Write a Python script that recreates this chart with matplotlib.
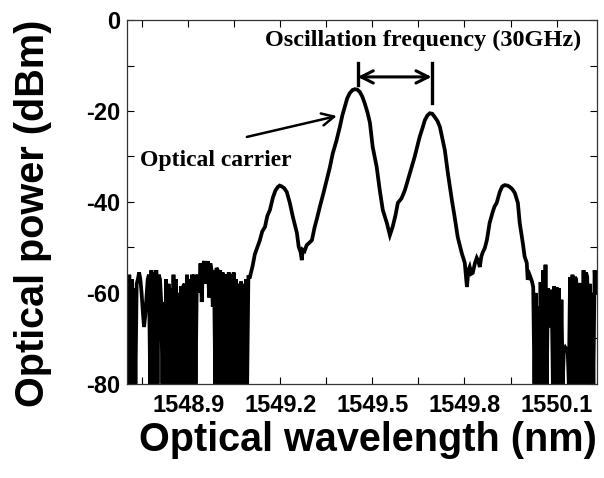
import numpy as np
import matplotlib.pyplot as plt
from matplotlib.ticker import MultipleLocator, FuncFormatter

# Optical spectrum (wavelength in nm, power in dBm)
# noisy floor on the short-wavelength side
wl_left = [1548.700, 1548.704, 1548.708, 1548.712, 1548.716, 1548.720, 1548.724, 1548.728,
           1548.732, 1548.736, 1548.740, 1548.744, 1548.748, 1548.752, 1548.756, 1548.760,
           1548.764, 1548.768, 1548.772, 1548.776, 1548.780, 1548.784, 1548.788, 1548.792,
           1548.796, 1548.800, 1548.804, 1548.808, 1548.812, 1548.816, 1548.820, 1548.824,
           1548.828, 1548.832, 1548.836, 1548.840, 1548.844, 1548.848, 1548.852, 1548.856,
           1548.860, 1548.864, 1548.868, 1548.872, 1548.876, 1548.880, 1548.884, 1548.888,
           1548.892, 1548.896, 1548.900, 1548.904, 1548.908, 1548.912, 1548.916, 1548.920,
           1548.924, 1548.928, 1548.932, 1548.936, 1548.940, 1548.944, 1548.948, 1548.952,
           1548.956, 1548.960, 1548.964, 1548.968, 1548.972, 1548.976, 1548.980, 1548.984,
           1548.988, 1548.992, 1548.996, 1549.000, 1549.004, 1549.008, 1549.012, 1549.016,
           1549.020, 1549.024, 1549.028, 1549.032, 1549.036, 1549.040, 1549.044, 1549.048,
           1549.052, 1549.056, 1549.060, 1549.064, 1549.068, 1549.072, 1549.076, 1549.080,
           1549.084, 1549.088, 1549.092, 1549.096]
pw_left = [-56.5, -80.0, -56.0, -80.0, -57.0, -80.0, -59.0, -80.0,
           -58.0, -57.0, -55.5, -57.0, -60.0, -64.0, -67.5, -65.0,
           -61.0, -57.0, -56.0, -80.0, -55.0, -80.0, -55.5, -80.0,
           -55.0, -80.0, -56.0, -57.0, -62.0, -80.0, -62.0, -80.0,
           -57.0, -80.0, -58.0, -80.0, -59.0, -80.0, -56.0, -80.0,
           -57.0, -80.0, -60.0, -80.0, -58.5, -80.0, -58.5, -58.0,
           -80.0, -56.0, -80.0, -57.0, -80.0, -56.0, -80.0, -56.0,
           -80.0, -57.0, -56.0, -60.0, -53.5, -62.0, -54.0, -53.0,
           -58.0, -55.0, -53.0, -61.0, -53.5, -55.0, -63.0, -55.0,
           -80.0, -54.5, -55.0, -80.0, -55.0, -80.0, -55.5, -80.0,
           -56.5, -56.0, -80.0, -55.5, -80.0, -56.0, -80.0, -55.5,
           -80.0, -57.0, -80.0, -58.0, -80.0, -57.5, -80.0, -58.0,
           -80.0, -57.0, -80.0, -56.5]

# the modulated spectrum (sidebands and carrier)
wl_mid = [1549.101, 1549.110, 1549.117, 1549.125, 1549.133, 1549.141, 1549.150,
          1549.158, 1549.166, 1549.176, 1549.184, 1549.192, 1549.198, 1549.205,
          1549.213, 1549.221, 1549.231, 1549.241, 1549.254, 1549.260, 1549.266,
          1549.270, 1549.273, 1549.279, 1549.286, 1549.294, 1549.303, 1549.312,
          1549.320, 1549.329, 1549.340, 1549.351, 1549.361, 1549.371, 1549.383,
          1549.394, 1549.402, 1549.410, 1549.418, 1549.426, 1549.435, 1549.443,
          1549.451, 1549.459, 1549.467, 1549.475, 1549.484, 1549.492, 1549.501,
          1549.514, 1549.524, 1549.534, 1549.547, 1549.557, 1549.566, 1549.575,
          1549.583, 1549.595, 1549.606, 1549.622, 1549.638, 1549.654, 1549.663,
          1549.671, 1549.679, 1549.687, 1549.695, 1549.703, 1549.712, 1549.720,
          1549.736, 1549.746, 1549.759, 1549.768, 1549.778, 1549.791, 1549.801,
          1549.808, 1549.813, 1549.817, 1549.822, 1549.827, 1549.834, 1549.840,
          1549.845, 1549.850, 1549.855, 1549.860, 1549.866, 1549.873, 1549.882,
          1549.892, 1549.898, 1549.905, 1549.915, 1549.923, 1549.931, 1549.940,
          1549.948, 1549.956, 1549.964, 1549.974, 1549.980, 1549.990, 1549.996,
          1550.003, 1550.006, 1550.012]
pw_mid = [-56.5, -54.0, -51.5, -50.0, -48.5, -46.5, -45.5,
          -43.0, -41.8, -39.0, -37.5, -36.7, -36.4, -36.6,
          -37.0, -37.8, -40.2, -43.3, -46.8, -49.9, -51.0,
          -52.8, -50.5, -50.8, -49.5, -49.0, -48.4, -45.5,
          -43.5, -41.0, -38.2, -35.2, -32.5, -29.3, -26.5,
          -23.5, -21.0, -19.1, -17.2, -16.1, -15.4, -15.2,
          -15.3, -15.8, -16.8, -18.3, -20.3, -22.6, -27.9,
          -32.3, -37.4, -41.8, -44.6, -47.3, -45.5, -43.0,
          -40.2, -39.2, -37.4, -33.7, -30.0, -25.7, -23.8,
          -22.0, -21.0, -20.5, -20.6, -21.3, -22.2, -23.5,
          -28.6, -33.7, -39.6, -43.3, -47.7, -51.2, -53.4,
          -58.7, -55.0, -54.3, -55.8, -55.6, -53.5, -52.3,
          -53.0, -54.3, -52.0, -51.0, -50.2, -48.4, -44.6,
          -42.2, -41.0, -40.2, -37.8, -36.6, -36.3, -36.4,
          -36.7, -37.2, -38.0, -40.2, -44.6, -49.0, -52.0,
          -53.4, -57.1, -56.0]

# noisy floor on the long-wavelength side
wl_right = [1550.020, 1550.024, 1550.028, 1550.032, 1550.036, 1550.040, 1550.044, 1550.048,
            1550.052, 1550.056, 1550.060, 1550.064, 1550.068, 1550.072, 1550.076, 1550.080,
            1550.084, 1550.088, 1550.092, 1550.096, 1550.100, 1550.104, 1550.108, 1550.112,
            1550.116, 1550.120, 1550.124, 1550.128, 1550.132, 1550.136, 1550.140, 1550.144,
            1550.148, 1550.152, 1550.156, 1550.160, 1550.164, 1550.168, 1550.172, 1550.176,
            1550.180, 1550.184, 1550.188, 1550.192, 1550.196, 1550.200, 1550.204, 1550.208,
            1550.212, 1550.216, 1550.220, 1550.224, 1550.228]
pw_right = [-57.5, -58.7, -80.0, -60.0, -80.0, -63.0, -80.0, -57.6,
            -80.0, -55.0, -80.0, -53.8, -80.0, -59.0, -67.5, -67.0,
            -59.3, -80.0, -58.5, -80.0, -58.7, -80.0, -59.0, -80.0,
            -61.5, -80.0, -72.5, -72.0, -72.5, -72.0, -80.0, -56.5,
            -80.0, -56.0, -80.0, -56.5, -57.0, -80.0, -57.8, -80.0,
            -58.0, -80.0, -55.0, -80.0, -55.5, -56.5, -80.0, -58.0,
            -80.0, -60.0, -80.0, -55.0, -60.0]

wavelength = np.array(wl_left + wl_mid + wl_right)
power = np.array(pw_left + pw_mid + pw_right)

# annotation anchors (nm, dBm)
carrier_peak = (1549.452, -15.2)
sideband_peak = (1549.693, -20.5)

plt.rcParams['font.family'] = ['Liberation Sans', 'DejaVu Sans']

fig = plt.figure(figsize=(6.04, 4.78), dpi=100)
ax = fig.add_axes([0.210, 0.197, 0.778, 0.761])

ax.plot(wavelength, power, color='black', lw=2.7, solid_joinstyle='miter')

ax.set_xlim(1548.70, 1550.231)
ax.set_ylim(-80, 0)

ax.xaxis.set_major_locator(MultipleLocator(0.15))
ax.yaxis.set_major_locator(MultipleLocator(10))


def xfmt(v, pos):
    k = round((v - 1548.9) / 0.15)
    return f"{v:.1f}" if k % 2 == 0 else ""


def yfmt(v, pos):
    return f"{v:.0f}" if round(v) % 20 == 0 else ""


ax.xaxis.set_major_formatter(FuncFormatter(xfmt))
ax.yaxis.set_major_formatter(FuncFormatter(yfmt))
ax.tick_params(direction='in', length=5, width=0.8, top=True, right=True,
               labelsize=17)
ax.tick_params(axis='x', pad=7)
ax.tick_params(axis='y', pad=5)
for lab in ax.get_xticklabels() + ax.get_yticklabels():
    lab.set_fontweight('bold')
for sp in ax.spines.values():
    sp.set_linewidth(0.9)
    sp.set_color('#333333')

ax.set_xlabel('Optical wavelength (nm)', fontsize=28.5, fontweight='bold', va='center')
ax.xaxis.set_label_coords(0.513, -0.154)
ax.set_ylabel('Optical power (dBm)', fontsize=28.5, fontweight='bold', va='center')
ax.yaxis.set_label_coords(-0.200, 0.47)

serif = ['Liberation Serif', 'DejaVu Serif']
ax.text(1549.666, -4.4, 'Oscillation frequency (30GHz)', family=serif,
        fontsize=17.5, fontweight='bold', ha='center', va='center')
ax.text(1548.99, -30.8, 'Optical carrier', family=serif,
        fontsize=17, fontweight='bold', ha='center', va='center')

# arrow pointing at the carrier
ax.annotate('', xy=(1549.384, -21.1), xytext=(1549.091, -25.7),
            arrowprops=dict(arrowstyle='->', color='black', lw=1.8,
                            mutation_scale=22, shrinkA=0, shrinkB=0))

# spacing marker between carrier and first sideband
ax.plot([carrier_peak[0]] * 2, [-9.5, -14.3], color='black', lw=2.4)
ax.plot([sideband_peak[0]] * 2, [-9.5, -18.2], color='black', lw=2.4)
ax.annotate('', xy=(sideband_peak[0], -12.5), xytext=(carrier_peak[0], -12.5),
            arrowprops=dict(arrowstyle='<->', color='black', lw=2.2,
                            mutation_scale=22, shrinkA=0, shrinkB=0))

fig.savefig('out.png', dpi=100)
